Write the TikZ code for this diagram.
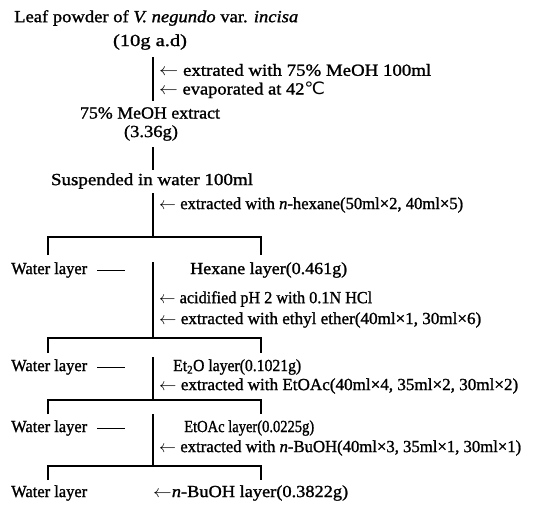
\documentclass[tikz,border=0pt]{standalone}
\usepackage{fontspec}
\usepackage{graphicx}
\setmainfont{Liberation Serif}[FakeBold=1.2]
\newfontfamily\symfont{DejaVu Sans}
\newcommand{\fw}[2]{\resizebox{#1pt}{\height}{#2}}
\begin{document}
\begin{tikzpicture}[x=1pt,y=-1pt,
  font=\fontsize{17}{20}\selectfont,
  txt/.style={inner sep=0pt,anchor=west},
  ctxt/.style={inner sep=0pt},
  ln/.style={line width=1.2pt},
  dashln/.style={line width=0.8pt}]
\useasboundingbox[fill=white] (0,0) rectangle (540,515);
% top
\node[txt] (leaf) at (14,18) {\fw{284}{Leaf powder of \textit{V. negundo} var. \textit{incisa}}};
\node[ctxt] (dry) at (150,42) {\fw{74}{(10g a.d)}};
\coordinate (a1) at (153,57); \coordinate (a2) at (153,101);
\draw[ln] (a1) -- (a2);
\node[txt] (s1) at (159,70) {\fw{272}{$\leftarrow$ extrated with 75\% MeOH 100ml}};
\node[txt] (s2) at (159,90) {\fw{166}{$\leftarrow$ evaporated at 42{\symfont ℃}}};
\node[ctxt] (meoh) at (150,113) {\fw{140}{75\% MeOH extract}};
\node[ctxt] (meohw) at (151,133) {\fw{54}{(3.36g)}};
\coordinate (b1) at (153,147); \coordinate (b2) at (153,170);
\draw[ln] (b1) -- (b2);
\node[ctxt] (susp) at (152,181) {\fw{202}{Suspended in water 100ml}};
% hexane step
\coordinate (c1) at (153,193); \coordinate (c2) at (153,237);
\draw[ln] (c1) -- (c2);
\node[txt] (s3) at (159,205) {\fw{304}{$\leftarrow$ extracted with \textit{n}-hexane(50ml×2, 40ml×5)}};
\coordinate (cl) at (48,237); \coordinate (cr) at (261,237);
\draw[ln] (cl) ++(0,18) -- (cl) -- (cr) -- ++(0,18);
\node[txt] (w1) at (11,270) {\fw{76}{Water layer}};
\draw[dashln] ([xshift=10pt]w1.east) -- ++(28,0);
\node[txt] (hex) at (190,270) {\fw{157}{Hexane layer(0.461g)}};
\coordinate (d1) at (153,262); \coordinate (d2) at (153,338);
\draw[ln] (d1) -- (d2);
\node[txt] (s4) at (159,299) {\fw{213}{$\leftarrow$ acidified pH 2 with 0.1N HCl}};
\node[txt] (s5) at (159,320) {\fw{322}{$\leftarrow$ extracted with ethyl ether(40ml×1, 30ml×6)}};
\coordinate (dl) at (48,338); \coordinate (dr) at (261,338);
\draw[ln] (dl) ++(0,15) -- (dl) -- (dr) -- ++(0,15);
% ether step
\node[txt] (w2) at (11,367) {\fw{76}{Water layer}};
\draw[dashln] ([xshift=10pt]w2.east) -- ++(28,0);
\node[txt] (et) at (173,367) {\fw{128}{Et\textsubscript{2}O layer(0.1021g)}};
\coordinate (e1) at (153,357); \coordinate (e2) at (153,400);
\draw[ln] (e1) -- (e2);
\node[txt] (s6) at (159,386) {\fw{359}{$\leftarrow$ extracted with EtOAc(40ml×4, 35ml×2, 30ml×2)}};
\coordinate (el) at (48,400); \coordinate (er) at (261,400);
\draw[ln] (el) ++(0,14) -- (el) -- (er) -- ++(0,14);
% EtOAc step
\node[txt] (w3) at (11,428) {\fw{76}{Water layer}};
\draw[dashln] ([xshift=10pt]w3.east) -- ++(28,0);
\node[txt] (ea) at (184,428) {\fw{130}{EtOAc layer(0.0225g)}};
\coordinate (f1) at (153,414); \coordinate (f2) at (153,466);
\draw[ln] (f1) -- (f2);
\node[txt] (s7) at (159,448) {\fw{362}{$\leftarrow$ extracted with \textit{n}-BuOH(40ml×3, 35ml×1, 30ml×1)}};
\coordinate (fl) at (48,466); \coordinate (fr) at (261,466);
\draw[ln] (fl) ++(0,14) -- (fl) -- (fr) -- ++(0,14);
% final
\node[txt] (w4) at (11,493) {\fw{76}{Water layer}};
\node[txt] (bu) at (153,493) {\fw{195}{$\leftarrow$\textit{n}-BuOH layer(0.3822g)}};
\end{tikzpicture}
\end{document}
